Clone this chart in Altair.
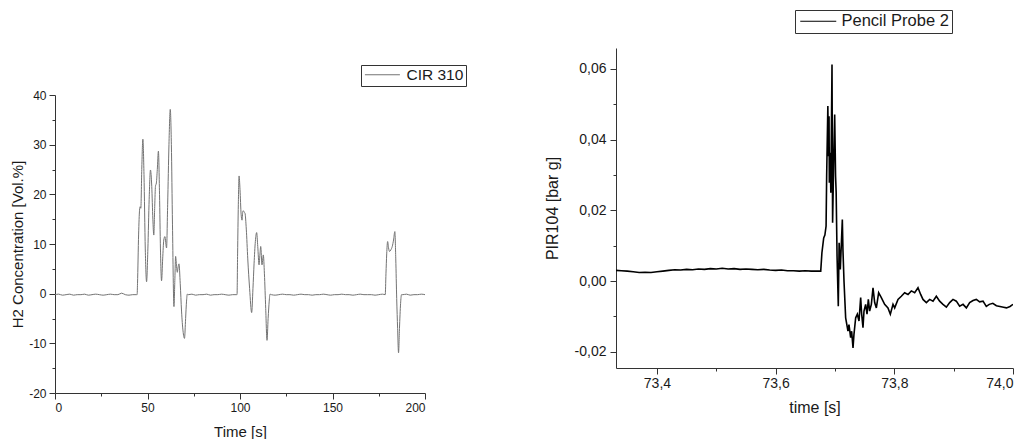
import altair as alt
import pandas as pd

# ---------------- Left chart data: CIR 310 H2 concentration ----------------
left_time = [
    0, 2, 4, 6, 8, 10, 12, 14, 16, 18, 20, 22, 24, 26, 28, 30, 32, 34, 36, 38, 40, 42, 44, 44.4,
    44.6, 45.2, 45.7, 46.0, 46.4, 46.9, 47.5, 48.1, 48.8, 49.5, 50.2, 50.9, 51.6, 52.3, 52.9, 53.4,
    53.9, 54.3, 54.8, 55.3, 55.9, 56.5, 57.0, 57.6, 58.2, 58.8, 59.4, 60.3, 60.9, 61.6, 62.3, 62.9,
    63.5, 64.3, 64.8, 65.2, 65.7, 66.1, 66.6, 67.0, 67.7, 68.4, 69.2, 70.0, 70.6, 71.1, 71.5,
    72, 74, 76, 78, 80, 82, 84, 86, 88, 90, 92, 94, 96, 98, 98.4,
    98.7, 99.1, 99.5, 100.0, 100.6, 101.1, 101.5, 101.8, 102.3, 102.7, 103.4, 104.2, 105.2, 106.3,
    107.0, 107.6, 108.3, 109.0, 109.6, 110.3, 110.8, 111.2, 111.9, 112.3, 112.6, 113.2, 113.9,
    114.6, 115.2, 115.8, 116.2,
    117, 119, 121, 123, 125, 127, 129, 131, 133, 135, 137, 139, 141, 143, 145, 147, 149, 151, 153,
    155, 157, 159, 161, 163, 165, 167, 169, 171, 173, 175, 177, 178.5,
    178.9, 179.3, 179.8, 180.3, 180.8, 181.5, 182.3, 183.0, 183.7, 184.2, 184.7, 185.2, 185.7,
    186.2, 186.8, 187.3,
    188, 190, 192, 194, 196, 198, 200,
]
left_value = [
    -0.2, -0.1, -0.3, -0.2, -0.1, -0.3, -0.2, -0.2, -0.1, -0.3, -0.2, -0.1, -0.2, -0.3, -0.2, -0.1,
    -0.2, -0.2, 0.1, -0.2, -0.3, -0.2, -0.2, -0.2,
    2, 12, 16.8, 17.5, 17.2, 25, 31.1, 24, 9, 2.4, 9, 19, 24.9, 21.6, 15, 11.8,
    17.5, 21.6, 22.3, 25, 28.7, 20, 9, 2.6, 7, 10.8, 11.5, 9.2, 18, 30, 37.1, 30,
    14, -2.6, 3, 7.5, 5.5, 4.3, 5.5, 6.0, 2, -3.5, -7.5, -9.0, -5, -1.5, -0.1,
    -0.2, -0.1, -0.3, -0.2, -0.2, -0.1, -0.3, -0.2, -0.2, -0.1, -0.2, -0.3, -0.2, -0.2, -0.2,
    8, 18, 23.7, 21, 16, 14.8, 16.5, 16.7, 16.4, 16.2, 13, 7, 1, -3.8,
    1, 6, 10.5, 12.3, 9.5, 5.8, 8, 9.5, 5.8, 7, 7.8, 4, -3,
    -9.4, -5, -1.5, -0.1,
    -0.2, -0.3, -0.2, -0.1, -0.2, -0.2, -0.3, -0.2, -0.1, -0.2, -0.2, -0.3, -0.2, -0.2, -0.1, -0.2,
    -0.3, -0.2, -0.2, -0.1, -0.2, -0.2, -0.3, -0.2, -0.1, -0.2, -0.2, -0.2, -0.3, -0.2, -0.1, -0.2,
    4, 8, 10.5, 9.2, 8.5, 8.8, 9.5, 10.8, 12.5, 7, -1, -7, -11.9,
    -7, -2, -0.2,
    -0.2, -0.1, -0.3, -0.2, -0.2, -0.1, -0.2,
]
left_series = "CIR 310"
left_x_ticks = [0, 25, 50, 75, 100, 125, 150, 175, 200]
left_y_ticks = [-20, -15, -10, -5, 0, 5, 10, 15, 20, 25, 30, 35, 40]

# ---------------- Right chart data: Pencil Probe 2 pressure ----------------
right_time = [
    73.331, 73.34, 73.35, 73.36, 73.37, 73.38, 73.39, 73.40, 73.41, 73.42, 73.43, 73.44, 73.45,
    73.46, 73.47, 73.48, 73.49, 73.50, 73.51, 73.52, 73.53, 73.54, 73.55, 73.56, 73.57, 73.58,
    73.59, 73.60, 73.61, 73.62, 73.63, 73.64, 73.65, 73.66, 73.67, 73.676,
    73.678, 73.681, 73.683, 73.685, 73.686, 73.688, 73.689, 73.690, 73.6905, 73.692, 73.693,
    73.695, 73.696, 73.698, 73.6995, 73.701, 73.702, 73.7035, 73.7056, 73.707, 73.709, 73.7124,
    73.7135, 73.7152, 73.718, 73.7219, 73.7236, 73.7264, 73.7281, 73.7304, 73.732, 73.7349,
    73.7377, 73.7405, 73.7433, 73.745, 73.7472, 73.7489, 73.7517, 73.754, 73.7562, 73.7584,
    73.7613, 73.7641, 73.7669, 73.7697, 73.7736, 73.7781, 73.7837, 73.7893, 73.7933, 73.7978,
    73.8006, 73.8062, 73.8118, 73.8174, 73.8231, 73.8287, 73.8343, 73.8399, 73.8444, 73.8483,
    73.854, 73.8596, 73.8652, 73.8708, 73.8764, 73.882, 73.8877, 73.8933, 73.8989, 73.9045,
    73.9101, 73.9158, 73.9214, 73.927, 73.9326, 73.9382, 73.9438, 73.9495, 73.955, 73.960,
    73.966, 73.972, 73.978, 73.984, 73.989, 73.995, 74.0,
]
right_value = [
    0.0030, 0.0029, 0.0028, 0.0026, 0.0024, 0.0025, 0.0024, 0.0026, 0.0028, 0.0030, 0.0032,
    0.0031, 0.0033, 0.0032, 0.0034, 0.0033, 0.0035, 0.0034, 0.0036, 0.0034, 0.0035, 0.0033,
    0.0034, 0.0033, 0.0032, 0.0033, 0.0031, 0.0030, 0.0031, 0.0029, 0.0029, 0.0028, 0.0029,
    0.0028, 0.0028, 0.0028,
    0.0080, 0.0122, 0.0130, 0.0155, 0.0300, 0.0495, 0.0353, 0.0466, 0.0278, 0.0363, 0.0250,
    0.0612, 0.0165, 0.0353, 0.0471, 0.0297, 0.0250, 0.0071, -0.0071, 0.0108, 0.0033, 0.0174,
    0.0085, 0.0000, -0.0104, -0.0142, -0.0123, -0.0160, -0.0142, -0.0189, -0.0151, -0.0104,
    -0.0094, -0.0113, -0.0047, -0.0094, -0.0132, -0.0085, -0.0066, -0.0094, -0.0052, -0.0085,
    -0.0066, -0.0019, -0.0061, -0.0076, -0.0033, -0.0047, -0.0066, -0.0076, -0.0094, -0.0066,
    -0.0076, -0.0052, -0.0043, -0.0033, -0.0038, -0.0028, -0.0033, -0.0019, -0.0038, -0.0052,
    -0.0061, -0.0052, -0.0057, -0.0043, -0.0057, -0.0066, -0.0074, -0.0061, -0.0052, -0.0057,
    -0.0071, -0.0066, -0.0076, -0.0061, -0.0055, -0.0052, -0.0059, -0.0057, -0.0072, -0.0066,
    -0.0063, -0.0070, -0.0072, -0.0074, -0.0076, -0.0072, -0.0066,
]
right_series = "Pencil Probe 2"
right_x_ticks = [73.4, 73.5, 73.6, 73.7, 73.8, 73.9, 74.0]
right_y_ticks = [-0.02, -0.01, 0.0, 0.01, 0.02, 0.03, 0.04, 0.05, 0.06]

FONT = "Liberation Sans"
AX = "#333333"
TXT = "#1a1a1a"
LINE_SYMBOL = "M-1,0H5"

left_df = pd.DataFrame({"t": left_time, "v": left_value, "s": [left_series] * len(left_time)})
right_df = pd.DataFrame({"t": right_time, "v": right_value, "s": [right_series] * len(right_time)})

left = alt.Chart(left_df).mark_line(interpolate="monotone", strokeWidth=1, clip=True).encode(
    x=alt.X("t:Q", scale=alt.Scale(domain=[0, 200], nice=False, zero=False),
            axis=alt.Axis(title="Time [s]", values=left_x_ticks, grid=False,
                          labelExpr="datum.value % 50 === 0 ? '' + datum.value : ''",
                          tickSize={"condition": {"test": "datum.value % 50 !== 0", "value": 3}, "value": 6},
                          labelFontSize=12, titleFontSize=15, labelPadding=3, titlePadding=11,
                          labelOverlap=False)),
    y=alt.Y("v:Q", scale=alt.Scale(domain=[-20, 40], nice=False, zero=False),
            axis=alt.Axis(title="H2 Concentration [Vol.%]", values=left_y_ticks, grid=False,
                          labelExpr="datum.value % 10 === 0 ? '' + datum.value : ''",
                          tickSize={"condition": {"test": "datum.value % 10 !== 0", "value": 3}, "value": 6},
                          labelFontSize=12, titleFontSize=15, labelPadding=3, titlePadding=3,
                          labelOverlap=False)),
    color=alt.Color("s:N", scale=alt.Scale(domain=[left_series], range=["#737373"]),
                    legend=alt.Legend(orient="none", legendX=306, legendY=17, title=None,
                                      strokeColor="#333333", fillColor="white", padding=2,
                                      symbolType=LINE_SYMBOL, symbolSize=136, symbolStrokeWidth=1,
                                      symbolFillColor="transparent",
                                      labelFontSize=15.5, labelOffset=28, labelColor=TXT)),
).properties(width=370, height=298)

right = alt.Chart(right_df).mark_line(strokeWidth=1.6, clip=True).encode(
    x=alt.X("t:Q", scale=alt.Scale(domain=[73.331, 74.0], nice=False, zero=False),
            axis=alt.Axis(title="time [s]", values=right_x_ticks, grid=False,
                          labelExpr="round(datum.value*10) % 2 === 0 ? replace(format(datum.value, '.1f'), '.', ',') : ''",
                          tickSize={"condition": {"test": "round(datum.value*10) % 2 !== 0", "value": 3}, "value": 6},
                          labelFontSize=14, titleFontSize=16, labelPadding=2, titlePadding=9,
                          labelOverlap=False)),
    y=alt.Y("v:Q", scale=alt.Scale(domain=[-0.0246, 0.0659], nice=False, zero=False),
            axis=alt.Axis(title="PIR104 [bar g]", values=right_y_ticks, grid=False,
                          labelExpr="round(datum.value*100) % 2 === 0 ? replace(replace(format(datum.value, '.2f'), '.', ','), '\u2212', '-') : ''",
                          tickSize={"condition": {"test": "round(datum.value*100) % 2 !== 0", "value": 3}, "value": 6},
                          labelFontSize=14, titleFontSize=16, labelPadding=4, titlePadding=14,
                          labelOverlap=False)),
    color=alt.Color("s:N", scale=alt.Scale(domain=[right_series], range=["#000000"]),
                    legend=alt.Legend(orient="none", legendX=179, legendY=-38, title=None,
                                      strokeColor="#333333", fillColor="white", padding=3,
                                      symbolType=LINE_SYMBOL, symbolSize=144, symbolStrokeWidth=1,
                                      symbolFillColor="transparent",
                                      labelFontSize=16.5, labelOffset=27, labelColor=TXT)),
).properties(width=397, height=320)

spacer = alt.Chart(pd.DataFrame({"a": [0]})).mark_rect(opacity=0).encode(
    x=alt.value(0), x2=alt.value(1), y=alt.value(0), y2=alt.value(41)
).properties(width=1, height=41)

left_col = alt.vconcat(spacer, left, spacing=0)

chart = alt.hconcat(left_col, right, spacing=77).resolve_scale(color="independent").properties(
    padding={"left": 2, "top": 1, "right": 0, "bottom": 0}
).configure(font=FONT).configure_view(strokeOpacity=0, strokeWidth=0, stroke="transparent").configure_axis(
    domainColor=AX, tickColor=AX, labelColor=TXT, titleColor=TXT, titleFontWeight="normal",
    labelFont=FONT, titleFont=FONT, domainWidth=1, tickWidth=1
).configure_legend(labelFont=FONT)

chart.save("out.html", embed_options={"renderer": "svg", "actions": False})
